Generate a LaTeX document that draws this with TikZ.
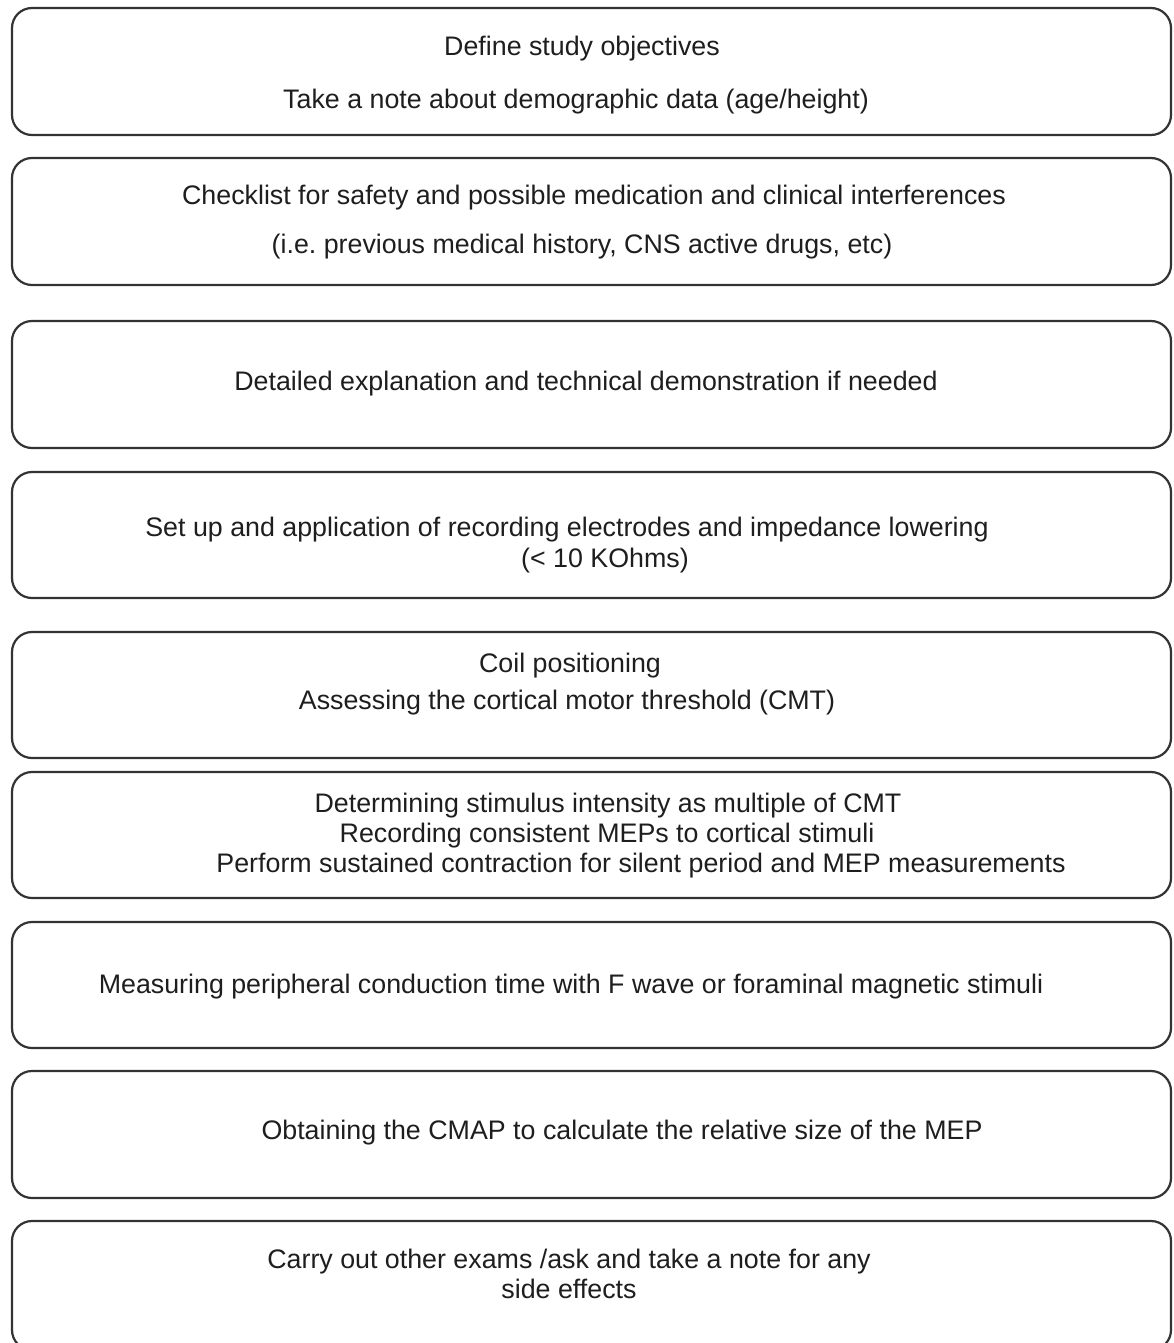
\documentclass[tikz,border=0pt]{standalone}
\usepackage{fontspec}
\setmainfont{Liberation Sans}
\usetikzlibrary{fit}
\definecolor{edge}{HTML}{333333}
\definecolor{ink}{HTML}{1E1E1E}
\frenchspacing
\tikzset{
  stepbox/.style={draw=edge, line width=1.1pt, rounded corners=10pt, inner sep=0pt, fill=none},
  label/.style={anchor=base, inner sep=0pt, text=ink, font=\fontsize{13.4pt}{15pt}\selectfont}
}
\begin{document}
\begin{tikzpicture}[x=0.5pt,y=-0.5pt]
\useasboundingbox (0,0) rectangle (1173,1343);
\fill[white] (0,0) rectangle (1173,1343);
\clip (0,0) rectangle (1173,1343);
% boxes
\node[stepbox, fit={(12,8) (1171,135)}] (b1) {};
\node[stepbox, fit={(12,158) (1171,285)}] (b2) {};
\node[stepbox, fit={(12,321) (1171,448)}] (b3) {};
\node[stepbox, fit={(12,472) (1171,598)}] (b4) {};
\node[stepbox, fit={(12,632) (1171,758)}] (b5) {};
\node[stepbox, fit={(12,772) (1171,898)}] (b6) {};
\node[stepbox, fit={(12,922) (1171,1048)}] (b7) {};
\node[stepbox, fit={(12,1071) (1171,1198)}] (b8) {};
\node[stepbox, fit={(12,1221) (1171,1350)}] (b9) {};
% texts
\node[label] (t1a) at (582,56) {Define study objectives};
\node[label] (t1b) at (576,109) {Take a note about demographic data (age/height)};
\node[label] (t2a) at (594,204) {Checklist for safety and possible medication and clinical interferences};
\node[label] (t2b) at (582,253) {(i.e. previous medical history, CNS active drugs, etc)};
\node[label] (t3) at (586,390) {Detailed explanation and technical demonstration if needed};
\node[label] (t4a) at (567,536) {Set up and application of recording electrodes and impedance lowering};
\node[label] (t4b) at (605,567) {(< 10 KOhms)};
\node[label] (t5a) at (570,672) {Coil positioning};
\node[label] (t5b) at (567,709) {Assessing the cortical motor threshold (CMT)};
\node[label] (t6a) at (608,812) {Determining stimulus intensity as multiple of CMT};
\node[label] (t6b) at (607,842) {Recording consistent MEPs to cortical stimuli};
\node[label] (t6c) at (641,872) {Perform sustained contraction for silent period and MEP measurements};
\node[label] (t7) at (571,993) {Measuring peripheral conduction time with F wave or foraminal magnetic stimuli};
\node[label] (t8) at (622,1139) {Obtaining the CMAP to calculate the relative size of the MEP};
\node[label] (t9a) at (569,1268) {Carry out other exams /ask and take a note for any};
\node[label] (t9b) at (569,1298) {side effects};
\end{tikzpicture}
\end{document}
